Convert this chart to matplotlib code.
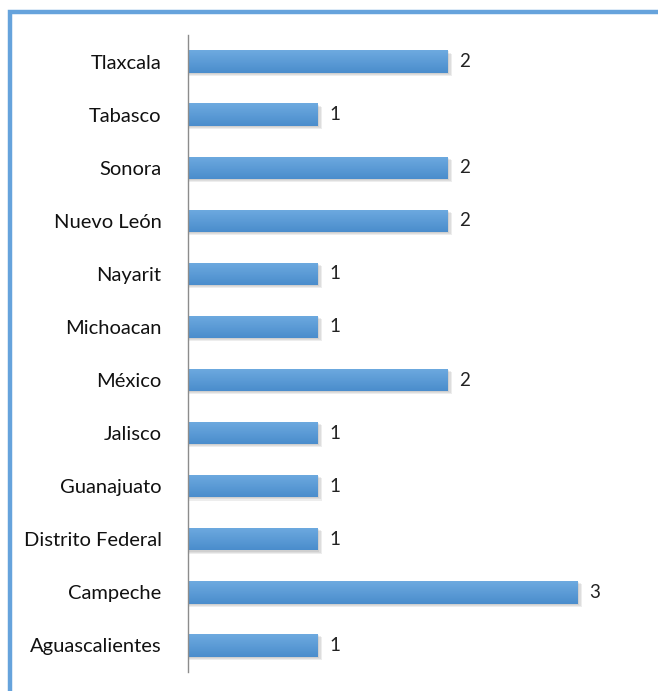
import matplotlib
matplotlib.use("Agg")
import matplotlib.pyplot as plt
import numpy as np
from matplotlib.patches import Rectangle
from matplotlib.colors import LinearSegmentedColormap

states = ["Aguascalientes", "Campeche", "Distrito Federal", "Guanajuato", "Jalisco",
          "México", "Michoacan", "Nayarit", "Nuevo León", "Sonora", "Tabasco", "Tlaxcala"]
counts = [1, 3, 1, 1, 1, 2, 1, 1, 2, 2, 1, 2]

plt.rcParams['font.family'] = ['Lato', 'DejaVu Sans']

W, H = 658, 691
fig = plt.figure(figsize=(W / 100, H / 100), dpi=100)
ax = fig.add_axes([188 / W, 1 - 672 / H, (643 - 188) / W, (672 - 35) / H])

y = np.arange(len(states))
bh = 0.42
cmap = LinearSegmentedColormap.from_list("g", ["#4a8dcc", "#6eaae0"])
grad = np.linspace(0, 1, 64).reshape(-1, 1)

# soft shadows
for k, a in enumerate([0.10, 0.10, 0.10]):
    off = 0.02 + 0.02 * k
    ax.barh(y - off, [c + 0.01 * (k + 1) for c in counts], height=bh,
            color="#555555", alpha=a, zorder=1, linewidth=0)
bars = ax.barh(y, counts, height=bh, color="#5b9bd5", zorder=2, linewidth=0)
for b in bars:
    x0, y0 = b.get_x(), b.get_y()
    w, h = b.get_width(), b.get_height()
    im = ax.imshow(grad, extent=[x0, x0 + w, y0, y0 + h], origin="lower",
                   cmap=cmap, aspect="auto", zorder=3)
    im.set_clip_path(b)

for yi, v in zip(y, counts):
    ax.text(v + 0.085, yi, str(v), va="center", ha="left", fontsize=13.5,
            color="#222222")

ax.set_xlim(0, 3.5)
ax.set_ylim(-0.5, len(states) - 0.5)
ax.set_yticks(y)
ax.set_yticklabels(states, fontsize=14.5, color="#111111")
ax.tick_params(axis="y", length=0, pad=19)
ax.set_xticks([])
for s in ["top", "right", "bottom"]:
    ax.spines[s].set_visible(False)
ax.spines["left"].set_color("#8c8c8c")
ax.spines["left"].set_linewidth(1.0)
ax.spines["left"].set_zorder(5)

# outer frame (only top and left visible)
fig.patches.append(Rectangle((9.5 / W, -0.1), 1.2, (H - 12) / H + 0.1,
                             transform=fig.transFigure, fill=False,
                             edgecolor="#66a3dc", linewidth=3.2))

fig.savefig("out.png", dpi=100)
